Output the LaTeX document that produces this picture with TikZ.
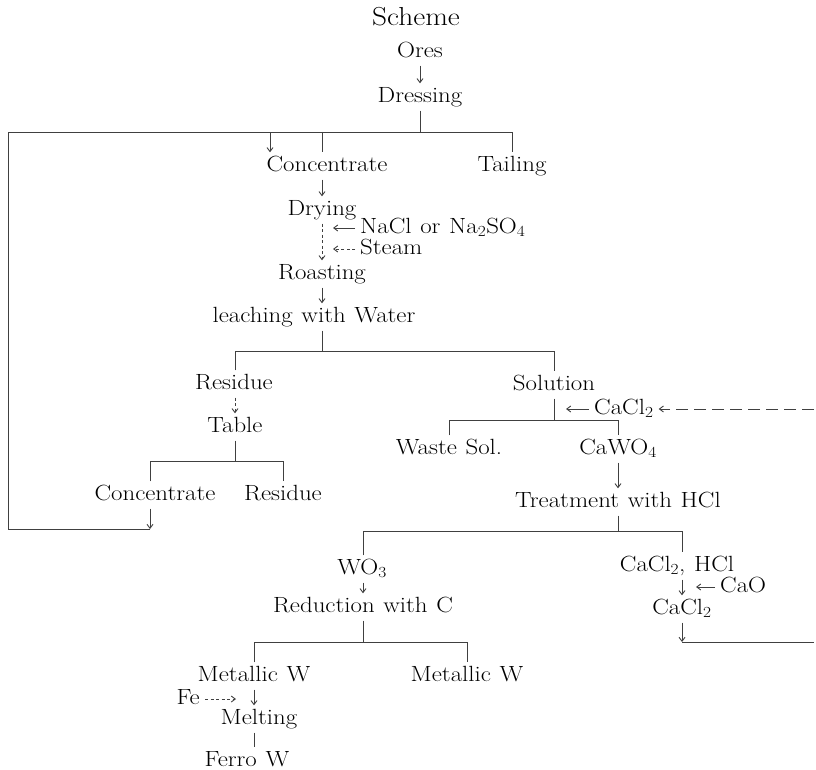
\documentclass[tikz,border=0pt]{standalone}
\usepackage{fontspec}
\setmainfont{Latin Modern Roman}[FakeStretch=1.13,WordSpace=1.15]
\usepackage{tikz}
\usetikzlibrary{arrows.meta}
\newcommand{\stagefont}{\fontsize{22}{26}\selectfont}
\newcommand{\titlefont}{\fontsize{26}{30}\selectfont}
\tikzset{
  stage/.style={inner xsep=1pt,inner ysep=4pt,text height=15pt,text depth=4pt,
    font=\stagefont},
  side/.style={stage,anchor=west,inner xsep=5pt},
  link/.style={line width=0.9pt,draw=black!75},
  arr/.style={link,-{Straight Barb[length=4pt,width=6pt]}},
  % dashed inflows (steam, iron, recycled chloride)
  feed/.style={arr,dash pattern=on 3pt off 2.5pt},
  feedlong/.style={arr,dash pattern=on 12pt off 6pt}
}

\begin{document}
\begin{tikzpicture}[x=1pt,y=-1pt]
  \useasboundingbox (0,0) rectangle (816,770);
  \node[font=\titlefont] (title) at (416,17) {Scheme};
  % stages
  \node[stage] (ores)   at (420,52)  {Ores};
  \node[stage] (dress)  at (420,97)  {Dressing};
  \node[stage] (conc1)  at (327,166) {Concentrate};
  \node[stage] (tail)   at (512,166) {Tailing};
  \node[stage] (dry)    at (322,210) {Drying};
  \node[side]  (nacl)   at (355,228) {NaCl or Na\textsubscript{2}SO\textsubscript{4}};
  \node[side]  (steam)  at (355,249) {Steam};
  \node[stage] (roast)  at (322,274) {Roasting};
  \node[stage] (leach)  at (314,317) {leaching with Water};
  \node[stage] (res1)   at (234,384) {Residue};
  \node[stage] (table)  at (235,427) {Table};
  \node[stage] (conc2)  at (155,495) {Concentrate};
  \node[stage] (res2)   at (283,495) {Residue};
  \node[stage] (sol)    at (554,385) {Solution};
  \node[side]  (cacl)   at (589,409) {CaCl\textsubscript{2}};
  \node[stage] (waste)  at (449,449) {Waste Sol.};
  \node[stage] (cawo)   at (618,449) {CaWO\textsubscript{4}};
  \node[stage] (treat)  at (618,502) {Treatment with HCl};
  \node[stage] (wo3)    at (362,569) {WO\textsubscript{3}};
  \node[stage] (chcl)   at (677,566) {CaCl\textsubscript{2}, HCl};
  \node[side]  (cao)    at (715,587) {CaO};
  \node[stage] (cacl2b) at (682,609) {CaCl\textsubscript{2}};
  \node[stage] (red)    at (363,607) {Reduction with C};
  \node[stage] (mw1)    at (254,676) {Metallic W};
  \node[stage] (mw2)    at (467,676) {Metallic W};
  \node[side,anchor=east] (fe) at (205,699) {Fe};
  \node[stage] (melt)   at (259,719) {Melting};
  \node[stage] (ferro)  at (247,761) {Ferro W};

  % branch points and free ends
  \coordinate (b1) at (420,132);
  \coordinate (b2) at (322,351);
  \coordinate (b3) at (235,461);
  \coordinate (b4) at (554,420);
  \coordinate (b5) at (618,531);
  \coordinate (b6) at (682,642);
  \coordinate (b7) at (363,642);
  \coordinate (loopB) at (150,529);
  \coordinate (loopL) at (8,529);
  \coordinate (loopT) at (8,132);
  \coordinate (loopR) at (270,132);
  \coordinate (naclin) at (333,228);
  \coordinate (steamin) at (333,249);
  \coordinate (caclin) at (566,409);
  \coordinate (caclsrc) at (814,409);
  \coordinate (caoin) at (696,587);
  \coordinate (fein) at (236,699);
  \coordinate (cacl2out) at (814,642);

  \draw[arr] (ores) -- (dress);
  \draw[link] (dress) -- (b1);
  \draw[link] (loopR) -- (b1 -| tail) -- (tail);
  \draw[link] (b1 -| dry) -- (dry |- conc1.north);
  \draw[arr] (dry |- conc1.south) -- (dry);
  \draw[feed] (dry) -- (roast);
  \draw[arr] (nacl) -- (naclin);
  \draw[feed] (steam) -- (steamin);
  \draw[arr] (roast) -- (roast |- leach.north);
  \draw[link] (roast |- leach.south) -- (b2);
  \draw[link] (table |- res1.north) -- (table |- b2) -- (sol |- b2) -- (sol);
  \draw[feed] (table |- res1.south) -- (table);
  \draw[link] (table) -- (b3);
  \draw[link] (loopB |- conc2.north) -- (loopB |- b3) -- (b3 -| res2) -- (res2);
  % table concentrate goes back to the first concentrate
  \draw[arr] (loopB |- conc2.south) -- (loopB);
  \draw[arr] (loopB) -- (loopL) -- (loopT) -- (loopR) -- (loopR |- conc1.north);

  \draw[link] (sol) -- (b4);
  \draw[link] (waste) -- (waste |- b4) -- (b4 -| cawo) -- (cawo);
  \draw[arr] (cacl) -- (caclin);
  \draw[feedlong] (caclsrc) -- (cacl);
  \draw[arr] (cawo) -- (treat);
  \draw[link] (treat) -- (b5);
  \draw[link] (red |- wo3.north) -- (red |- b5) -- (b5 -| cacl2b) -- (cacl2b |- chcl.north);
  \draw[arr] (red |- wo3.south) -- (red);
  \draw[arr] (cacl2b |- chcl.south) -- (cacl2b);
  \draw[arr] (cao) -- (caoin);
  \draw[arr] (cacl2b) -- (b6);
  \draw[link] (b6) -- (cacl2out);
  \draw[link] (red) -- (b7);
  \draw[link] (mw1) -- (mw1 |- b7) -- (b7 -| mw2) -- (mw2);
  \draw[arr] (mw1) -- (mw1 |- melt.north);
  \draw[feed] (fe) -- (fein);
  \draw[link] (mw1 |- melt.south) -- (mw1 |- ferro.north);
\end{tikzpicture}
\end{document}
